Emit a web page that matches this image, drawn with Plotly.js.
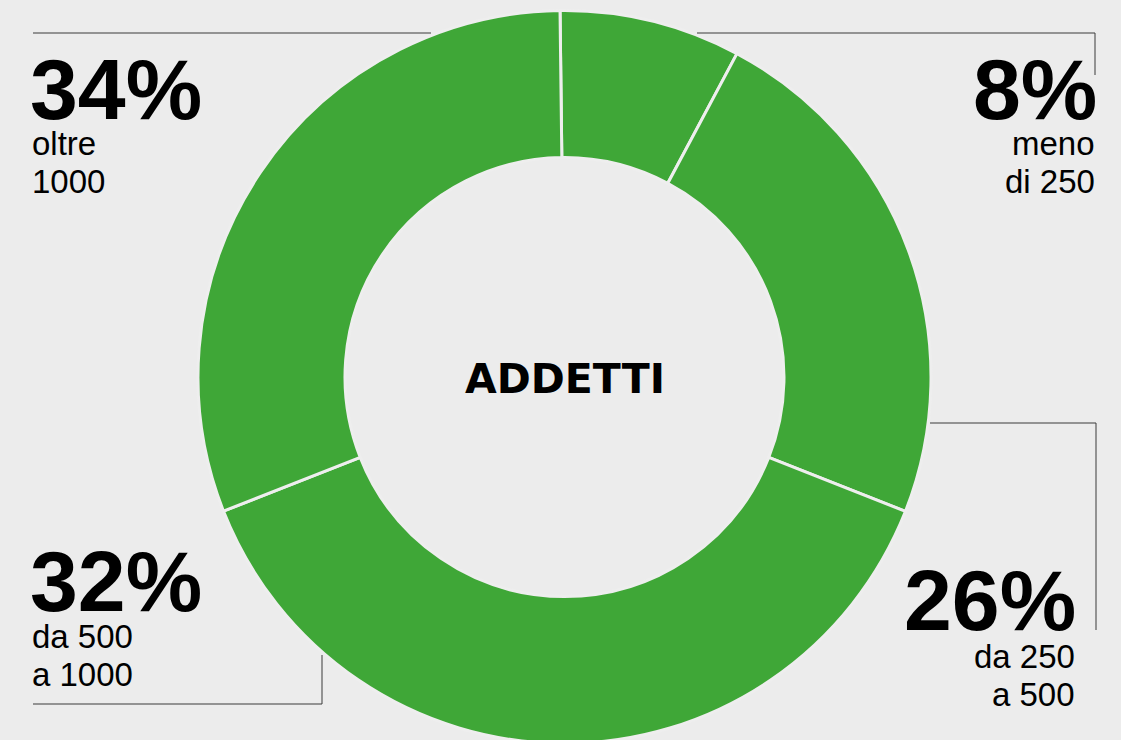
<!DOCTYPE html>
<html>
<head>
<meta charset="utf-8">
<script src="https://cdn.plot.ly/plotly-3.0.1.min.js"></script>
<style>
  html, body { margin: 0; padding: 0; background: #ececec; overflow: hidden; }
  #chart { width: 1121px; height: 750px; }
</style>
</head>
<body>
<div id="chart"></div>
<script>
// ---- data ----
const categories = ["meno di 250", "da 250 a 500", "da 500 a 1000", "oltre 1000"];
// share labels printed on the chart (%)
const shareLabels = [8, 26, 32, 34];
// arc sizes as drawn in the picture (% of the ring)
const arcValues = [8.0, 23.2, 38.1, 30.8];
const labelLine1 = ["meno", "da 250", "da 500", "oltre"];
const labelLine2 = ["di 250", "a 500", "a 1000", "1000"];
const centerTitle = "ADDETTI";

// ---- layout helpers ----
const W = 1121, H = 750;
const px = x => x / W;
const py = y => 1 - y / H;

const cx = 564.5, cy = 377, R = 366.5, r = 219.5;

const trace = {
  type: "pie",
  values: arcValues,
  labels: categories,
  sort: false,
  direction: "clockwise",
  rotation: -0.7,
  hole: r / R,
  textinfo: "none",
  hoverinfo: "label+percent",
  marker: { colors: categories.map(() => "#3fa737"), line: { color: "#eeeeee", width: 3 } },
  domain: { x: [px(cx - R), px(cx + R)], y: [py(cy + R), py(cy - R)] },
  showlegend: false
};

const BIG = 86, SMALL = 33;
const bigOff = 0.3465 * BIG, smallOff = 0.3465 * SMALL;

// label placement (layout only): baselines in pixels
const place = [
  { x: 1097, anchor: "right", big: 119, l1: 155, l2: 193, sx: 1095 },  // meno di 250
  { x: 1076, anchor: "right", big: 630, l1: 668, l2: 706, sx: 1075 },  // da 250 a 500
  { x: 30, anchor: "left", big: 611, l1: 648, l2: 686, sx: 32 },       // da 500 a 1000
  { x: 30, anchor: "left", big: 119, l1: 155, l2: 193, sx: 32 }        // oltre 1000
];

const annotations = [];
categories.forEach((c, i) => {
  const p = place[i];
  annotations.push({
    text: shareLabels[i] + "%", x: px(p.x), y: py(p.big - bigOff), xref: "paper", yref: "paper",
    xanchor: p.anchor, yanchor: "middle", showarrow: false, borderpad: 0, borderwidth: 0,
    font: { family: "Liberation Sans, Arial, sans-serif", size: BIG, color: "#000", weight: 700 }
  });
  [[labelLine1[i], p.l1], [labelLine2[i], p.l2]].forEach(([t, y]) => {
    annotations.push({
      text: t, x: px(p.sx), y: py(y - smallOff), xref: "paper", yref: "paper",
      xanchor: p.anchor, yanchor: "middle", showarrow: false, borderpad: 0, borderwidth: 0,
      font: { family: "Liberation Sans, Arial, sans-serif", size: SMALL, color: "#000" }
    });
  });
});
annotations.push({
  text: centerTitle, x: px(cx), y: py(378.8), xref: "paper", yref: "paper",
  xanchor: "center", yanchor: "middle", showarrow: false, borderpad: 0, borderwidth: 0,
  font: { family: "DejaVu Sans, sans-serif", size: 41, color: "#000", weight: 700 }
});

// leader lines (layout only)
const lineStyle = { color: "#3a3a3a", width: 1 };
const seg = (x0, y0, x1, y1) => ({ type: "line", xref: "paper", yref: "paper",
  x0: px(x0), y0: py(y0), x1: px(x1), y1: py(y1), line: lineStyle });
const shapes = [
  seg(33, 33, 431, 33),
  seg(697, 33, 1095, 33), seg(1095, 33, 1095, 75),
  seg(930, 423, 1096, 423), seg(1096, 423, 1096, 630),
  seg(322, 655, 322, 704), seg(33, 704, 322, 704)
];

const layout = {
  width: W, height: H,
  margin: { l: 0, r: 0, t: 0, b: 0 },
  paper_bgcolor: "#ececec",
  plot_bgcolor: "#ececec",
  annotations: annotations,
  shapes: shapes,
  showlegend: false
};

Plotly.newPlot("chart", [trace], layout, { displayModeBar: false });
</script>
</body>
</html>
